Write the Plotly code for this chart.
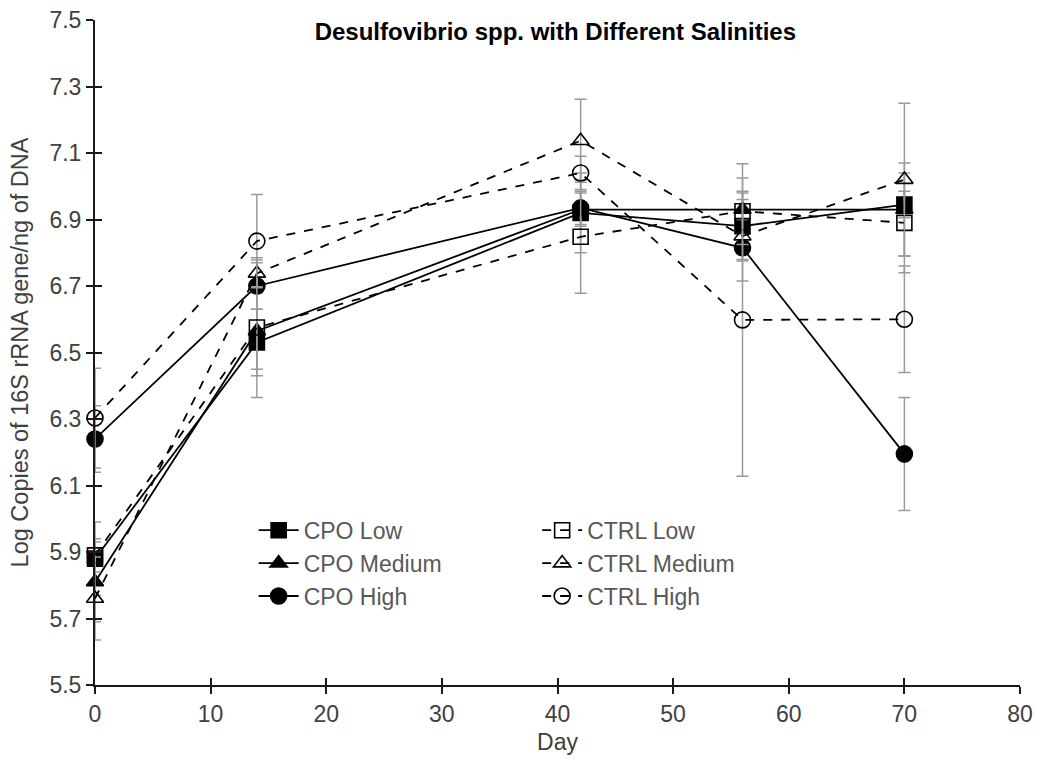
import plotly.graph_objects as go

days = [0, 14, 42, 56, 70]

cpo_low = [5.88, 6.53, 6.92, 6.88, 6.945]
cpo_low_err = [0.11, 0.10, 0.12, 0.10, 0.04]
cpo_med = [5.81, 6.565, 6.93, 6.93, 6.93]
cpo_med_err = [0.12, 0.115, 0.05, 0.03, 0.14]
cpo_high = [6.24, 6.70, 6.935, 6.815, 6.195]
cpo_high_err = [0.10, 0.07, 0.05, 0.04, 0.17]
ctrl_low = [5.89, 6.575, 6.848, 6.925, 6.89]
ctrl_low_err = [0.05, 0.21, 0.17, 0.10, 0.15]
ctrl_med = [5.76, 6.738, 7.137, 6.85, 7.02]
ctrl_med_err = [0.125, 0.04, 0.125, 0.135, 0.23]
ctrl_high = [6.303, 6.835, 7.04, 6.598, 6.60]
ctrl_high_err = [0.15, 0.14, 0.05, 0.47, 0.16]

y_ticks = [5.5, 5.7, 5.9, 6.1, 6.3, 6.5, 6.7, 6.9, 7.1, 7.3, 7.5]
y_ticktext = ["5.5", "5.7", "5.9", "6.1", "6.3", "6.5", "6.7", "6.9", "7.1", "7.3", "7.5"]
x_ticks = [0, 10, 20, 30, 40, 50, 60, 70, 80]

series = [
    ("CPO Low", cpo_low, cpo_low_err, "square", "solid", "legend"),
    ("CPO Medium", cpo_med, cpo_med_err, "triangle-up", "solid", "legend"),
    ("CPO High", cpo_high, cpo_high_err, "circle", "solid", "legend"),
    ("CTRL Low", ctrl_low, ctrl_low_err, "square-open", "dash", "legend2"),
    ("CTRL Medium", ctrl_med, ctrl_med_err, "triangle-up-open", "dash", "legend2"),
    ("CTRL High", ctrl_high, ctrl_high_err, "circle-open", "dash", "legend2"),
]

sizes = {"square": 15, "triangle-up": 15, "circle": 16,
         "square-open": 15, "triangle-up-open": 15, "circle-open": 16}

fig = go.Figure()
for name, vals, errs, sym, dash, leg in series:
    fig.add_trace(go.Scatter(
        x=days, y=vals, name=name, mode="lines+markers",
        line=dict(color="black", width=1.8, dash=dash),
        marker=dict(symbol=sym, size=sizes[sym], color="black",
                    line=dict(color="black", width=1.6)),
        error_y=dict(type="data", array=errs, visible=True,
                     color="#9a9a9a", thickness=1.5, width=6),
        cliponaxis=False, legend=leg,
    ))

axis_col = "#1a1a1a"
fam = "Liberation Sans, Arial, sans-serif"
tickfont = dict(family=fam, size=23, color="#404040")

fig.update_layout(
    width=1038, height=759,
    margin=dict(l=95, r=18, t=20, b=74, autoexpand=False),
    plot_bgcolor="white", paper_bgcolor="white",
    font=dict(family=fam, color="#404040"),
    title=dict(text="<b>Desulfovibrio spp. with Different Salinities</b>",
               x=0.535, xanchor="center", y=0.958, yanchor="middle",
               font=dict(size=24, color="black")),
    xaxis=dict(range=[0, 80], tickvals=x_ticks, automargin=False,
               showgrid=False, zeroline=False, showline=True, linecolor=axis_col,
               linewidth=2, ticks="outside", ticklen=7, tickwidth=1.5,
               tickcolor=axis_col, tickfont=tickfont,
               title=dict(text="Day", font=dict(size=23, color="#404040"), standoff=8)),
    yaxis=dict(range=[5.5, 7.5], tickvals=y_ticks, ticktext=y_ticktext, automargin=False,
               showgrid=False, zeroline=False, showline=True, linecolor=axis_col,
               linewidth=2, ticks="outside", ticklen=7, tickwidth=1.5,
               tickcolor=axis_col, tickfont=tickfont,
               title=dict(text="Log Copies of 16S rRNA gene/ng of DNA",
                          font=dict(size=23.5, color="#404040"), standoff=14)),
    xaxis2=dict(range=[0, 80], overlaying="x", tickvals=x_ticks, automargin=False,
                showgrid=False, zeroline=False, showline=False, ticks="inside",
                ticklen=7, tickwidth=1.5, tickcolor=axis_col, showticklabels=False),
    yaxis2=dict(range=[5.5, 7.5], overlaying="y", tickvals=y_ticks, automargin=False,
                showgrid=False, zeroline=False, showline=False, ticks="inside",
                ticklen=7, tickwidth=1.5, tickcolor=axis_col, showticklabels=False),
    legend=dict(x=0.1715, y=0.265, xanchor="left", yanchor="top",
                bgcolor="rgba(0,0,0,0)", font=dict(size=23, color="#595959"),
                tracegroupgap=0, itemwidth=40),
    legend2=dict(x=0.478, y=0.265, xanchor="left", yanchor="top",
                 bgcolor="rgba(0,0,0,0)", font=dict(size=23, color="#595959"),
                 tracegroupgap=0, itemwidth=40),
)
# invisible trace that activates the overlay axes (crossing tick marks)
fig.add_trace(go.Scatter(x=[None], y=[None], xaxis="x2", yaxis="y2",
                         showlegend=False, hoverinfo="skip"))

fig.write_html("out.html")
